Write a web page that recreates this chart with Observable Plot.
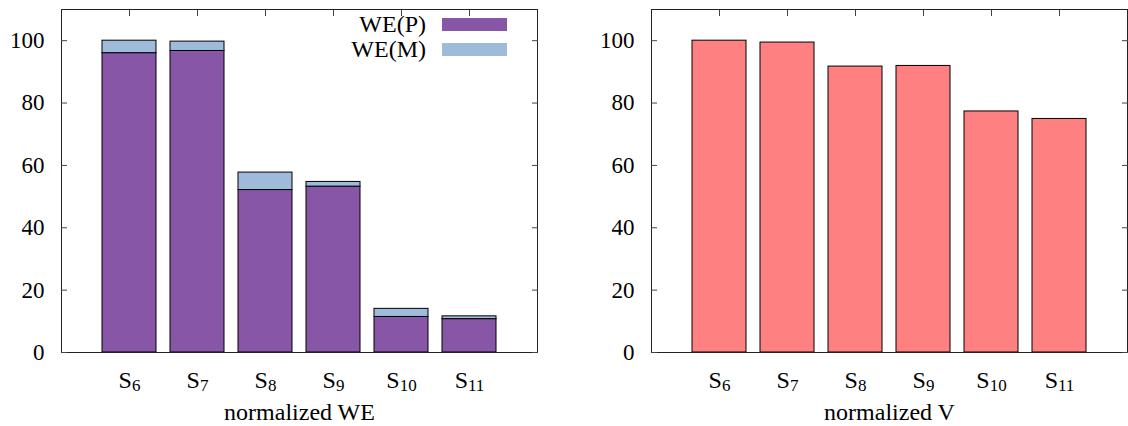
<!DOCTYPE html>
<html><head><meta charset="utf-8">
<script src="https://cdn.jsdelivr.net/npm/d3@7"></script>
<script src="https://cdn.jsdelivr.net/npm/@observablehq/plot@0.6"></script>
</head><body style="margin:0;background:#fff;">
<div id="wrap" style="display:flex;width:1128px;height:426px;font-family:'Liberation Serif';"><div id="left" style="position:relative;width:564px;height:426px;"></div><div id="right" style="position:relative;width:564px;height:426px;"></div></div>
<script>
const categories = ["S6","S7","S8","S9","S10","S11"];
const wePlatform = [96.0, 96.7, 52.1, 53.2, 11.4, 10.7];
const weMemory = [4.0, 3.0, 5.6, 1.5, 2.6, 0.9];
const normV = [100, 99.4, 91.7, 91.9, 77.3, 74.9];
const yTicks = [0, 20, 40, 60, 80, 100];
const seriesNames = ["WE(P)", "WE(M)"];
const seriesColors = ["#8856a7", "#9ebcda"];
const vColor = "#ff8080";
const xTitles = ["normalized WE", "normalized V"];
const FONT = "'Liberation Serif'";

const weData = [];
categories.forEach((c, i) => {
  weData.push({cat: c, series: seriesNames[0], value: wePlatform[i]});
  weData.push({cat: c, series: seriesNames[1], value: weMemory[i]});
});
const vData = categories.map((c, i) => ({cat: c, value: normV[i]}));

function finish(svg) {
  const s = d3.select(svg);
  s.attr("font-family", FONT).style("font-family", FONT);
  s.selectAll("text, tspan, g").attr("font-family", FONT).style("font-family", FONT);
  s.selectAll('g[aria-label="x-axis tick label"] text').each(function() {
    const m = this.textContent.match(/^([A-Za-z]+)(\d+)$/);
    if (!m) return;
    const t = d3.select(this);
    t.text(null);
    t.append("tspan").style("font-family", FONT).text(m[1]);
    t.append("tspan").style("font-family", FONT).attr("dy", "3").attr("font-size", "17px").text(m[2]);
  });
}

function commonMarks(title) {
  return [
    Plot.frame({stroke: "#222"}),
    Plot.axisY({anchor: "left", ticks: yTicks, tickSize: -6, tickPadding: 23, label: null, stroke: "#444", fontFamily: FONT}),
    Plot.axisY({anchor: "right", ticks: yTicks, tickSize: -6, tickFormat: () => "", label: null, stroke: "#444"}),
    Plot.axisX({anchor: "top", tickSize: -6, tickFormat: () => "", label: null, stroke: "#444"}),
    Plot.axisX({anchor: "bottom", tickSize: 0, tickPadding: 18, label: title, labelAnchor: "center", labelOffset: 67, fontSize: 24, fontFamily: FONT})
  ];
}

const xScale = {type: "band", domain: categories, paddingInner: 0.2, paddingOuter: 0.6};
const yScale = {domain: [0, 110]};
const style = {fontFamily: FONT, fontSize: "23px", color: "#000", background: "#fff", overflow: "visible"};

const left = Plot.plot({
  width: 564, height: 426,
  marginLeft: 61, marginRight: 27, marginTop: 9, marginBottom: 74,
  x: xScale, y: yScale, style,
  color: {domain: seriesNames, range: seriesColors},
  marks: [
    Plot.barY(weData, {x: "cat", y: "value", fill: "series", stroke: "#000", strokeWidth: 1, order: seriesNames}),
    ...commonMarks(xTitles[0])
  ]
});
finish(left);
document.getElementById("left").append(left);

const right = Plot.plot({
  width: 564, height: 426,
  marginLeft: 87, marginRight: 1, marginTop: 9, marginBottom: 74,
  x: xScale, y: yScale, style,
  marks: [
    Plot.barY(vData, {x: "cat", y: "value", fill: vColor, stroke: "#000", strokeWidth: 1}),
    ...commonMarks(xTitles[1])
  ]
});
finish(right);
document.getElementById("right").append(right);

// legend overlay (top-right inside left panel)
const leftPanel = document.getElementById("left");
seriesNames.forEach((name, i) => {
  const row = document.createElement("div");
  row.style.cssText = `position:absolute;right:57px;top:${12 + i * 25}px;display:flex;align-items:center;gap:16px;font-size:24px;line-height:25px;color:#000;font-family:${FONT};`;
  const lab = document.createElement("span");
  lab.textContent = name;
  const sw = document.createElement("span");
  sw.style.cssText = `display:block;width:65px;height:13px;background:${seriesColors[i]};`;
  row.append(lab, sw);
  leftPanel.append(row);
});
</script>
</body></html>
